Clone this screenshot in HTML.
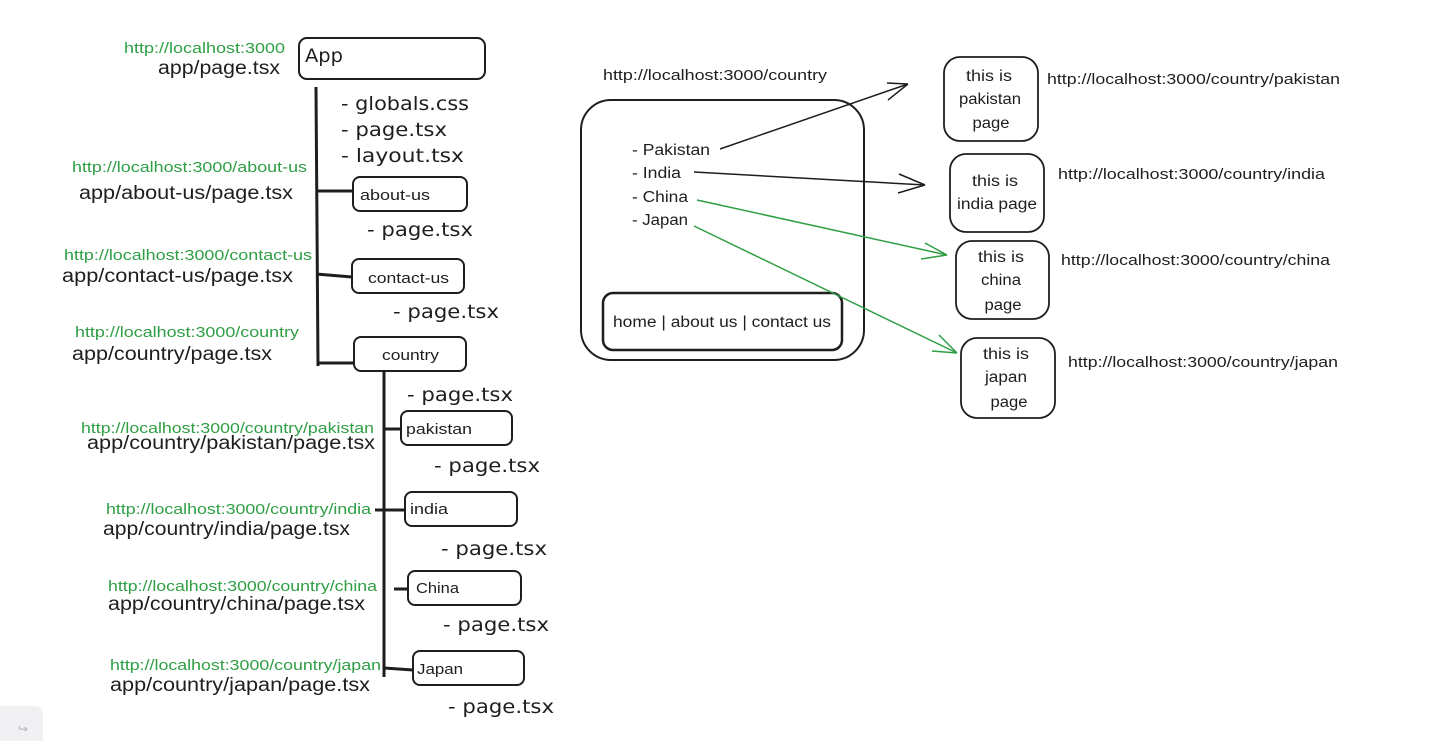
<!DOCTYPE html>
<html><head><meta charset="utf-8"><style>
html,body{margin:0;padding:0;background:#fff;width:1443px;height:741px;overflow:hidden}
svg{display:block}
.h{font-family:"DejaVu Sans","Liberation Sans",sans-serif;font-size:19px;fill:#1e1e1e}
.g{font-family:"Liberation Sans",sans-serif;font-size:15px;fill:#2f9e44}
.b{font-family:"Liberation Sans",sans-serif;font-size:19px;fill:#1e1e1e}
.s{font-family:"Liberation Sans",sans-serif;font-size:15.5px;fill:#1e1e1e}
.n{font-family:"Liberation Sans",sans-serif;font-size:15px;fill:#1e1e1e}
</style></head><body>
<svg width="1443" height="741" viewBox="0 0 1443 741" xmlns="http://www.w3.org/2000/svg">
<g fill="none" stroke="#1e1e1e" stroke-width="2">
<rect x="299" y="38" width="186" height="41" rx="8"/>
<rect x="353" y="177" width="114" height="34" rx="7"/>
<rect x="352" y="259" width="112" height="34" rx="7"/>
<rect x="354" y="337" width="112" height="34" rx="7"/>
<rect x="401" y="411" width="111" height="34" rx="7"/>
<rect x="405" y="492" width="112" height="34" rx="7"/>
<rect x="408" y="571" width="113" height="34" rx="7"/>
<rect x="413" y="651" width="111" height="34" rx="7"/>
</g>
<g stroke="#1e1e1e" stroke-width="3" fill="none">
<line x1="316" y1="87" x2="318" y2="366"/>
<line x1="316" y1="191" x2="353" y2="191"/>
<line x1="316" y1="274" x2="352" y2="277"/>
<line x1="318" y1="363" x2="354" y2="363"/>
<line x1="384" y1="371" x2="384" y2="677"/>
<line x1="384" y1="429" x2="401" y2="429"/>
<line x1="375" y1="510" x2="405" y2="510"/>
<line x1="394" y1="589" x2="408" y2="589"/>
<line x1="384" y1="668" x2="413" y2="670"/>
</g>
<g lengthAdjust="spacingAndGlyphs">
<text x="305" y="62" class="h" textLength="38" lengthAdjust="spacingAndGlyphs">App</text>
<text x="341" y="110" class="h" textLength="128" lengthAdjust="spacingAndGlyphs">- globals.css</text>
<text x="341" y="136" class="h" textLength="106" lengthAdjust="spacingAndGlyphs">- page.tsx</text>
<text x="341" y="162" class="h" textLength="123" lengthAdjust="spacingAndGlyphs">- layout.tsx</text>
<text x="367" y="236" class="h" textLength="106" lengthAdjust="spacingAndGlyphs">- page.tsx</text>
<text x="393" y="318" class="h" textLength="106" lengthAdjust="spacingAndGlyphs">- page.tsx</text>
<text x="407" y="401" class="h" textLength="106" lengthAdjust="spacingAndGlyphs">- page.tsx</text>
<text x="434" y="472" class="h" textLength="106" lengthAdjust="spacingAndGlyphs">- page.tsx</text>
<text x="441" y="555" class="h" textLength="106" lengthAdjust="spacingAndGlyphs">- page.tsx</text>
<text x="443" y="631" class="h" textLength="106" lengthAdjust="spacingAndGlyphs">- page.tsx</text>
<text x="448" y="713" class="h" textLength="106" lengthAdjust="spacingAndGlyphs">- page.tsx</text>
<text x="360" y="200" class="n" textLength="70" lengthAdjust="spacingAndGlyphs">about-us</text>
<text x="368" y="283" class="n" textLength="81" lengthAdjust="spacingAndGlyphs">contact-us</text>
<text x="382" y="360" class="n" textLength="57" lengthAdjust="spacingAndGlyphs">country</text>
<text x="406" y="434" class="n" textLength="66" lengthAdjust="spacingAndGlyphs">pakistan</text>
<text x="410" y="514" class="n" textLength="38" lengthAdjust="spacingAndGlyphs">india</text>
<text x="416" y="593" class="n" textLength="43" lengthAdjust="spacingAndGlyphs">China</text>
<text x="417" y="674" class="n" textLength="46" lengthAdjust="spacingAndGlyphs">Japan</text>

<text x="124" y="53" class="g" textLength="161" lengthAdjust="spacingAndGlyphs">http://localhost:3000</text>
<text x="158" y="74" class="b" textLength="122" lengthAdjust="spacingAndGlyphs">app/page.tsx</text>
<text x="72" y="172" class="g" textLength="235" lengthAdjust="spacingAndGlyphs">http://localhost:3000/about-us</text>
<text x="79" y="199" class="b" textLength="214" lengthAdjust="spacingAndGlyphs">app/about-us/page.tsx</text>
<text x="64" y="260" class="g" textLength="248" lengthAdjust="spacingAndGlyphs">http://localhost:3000/contact-us</text>
<text x="62" y="282" class="b" textLength="231" lengthAdjust="spacingAndGlyphs">app/contact-us/page.tsx</text>
<text x="75" y="337" class="g" textLength="224" lengthAdjust="spacingAndGlyphs">http://localhost:3000/country</text>
<text x="72" y="360" class="b" textLength="200" lengthAdjust="spacingAndGlyphs">app/country/page.tsx</text>
<text x="81" y="433" class="g" textLength="293" lengthAdjust="spacingAndGlyphs">http://localhost:3000/country/pakistan</text>
<text x="87" y="449" class="b" textLength="288" lengthAdjust="spacingAndGlyphs">app/country/pakistan/page.tsx</text>
<text x="106" y="514" class="g" textLength="265" lengthAdjust="spacingAndGlyphs">http://localhost:3000/country/india</text>
<text x="103" y="535" class="b" textLength="247" lengthAdjust="spacingAndGlyphs">app/country/india/page.tsx</text>
<text x="108" y="591" class="g" textLength="269" lengthAdjust="spacingAndGlyphs">http://localhost:3000/country/china</text>
<text x="108" y="610" class="b" textLength="257" lengthAdjust="spacingAndGlyphs">app/country/china/page.tsx</text>
<text x="110" y="670" class="g" textLength="271" lengthAdjust="spacingAndGlyphs">http://localhost:3000/country/japan</text>
<text x="110" y="691" class="b" textLength="260" lengthAdjust="spacingAndGlyphs">app/country/japan/page.tsx</text>

<text x="603" y="80" class="n" textLength="224" lengthAdjust="spacingAndGlyphs">http://localhost:3000/country</text>
</g>
<rect x="581" y="100" width="283" height="260" rx="30" fill="none" stroke="#1e1e1e" stroke-width="2"/>
<rect x="603" y="293" width="239" height="57" rx="10" fill="none" stroke="#1e1e1e" stroke-width="2.5"/>
<text x="613" y="327" class="s" textLength="218" lengthAdjust="spacingAndGlyphs">home | about us | contact us</text>
<text x="632" y="155" class="s" textLength="78" lengthAdjust="spacingAndGlyphs">- Pakistan</text>
<text x="632" y="178" class="s" textLength="49" lengthAdjust="spacingAndGlyphs">- India</text>
<text x="632" y="202" class="s" textLength="56" lengthAdjust="spacingAndGlyphs">- China</text>
<text x="632" y="225" class="s" textLength="56" lengthAdjust="spacingAndGlyphs">- Japan</text>
<g fill="none" stroke-width="1.5">
<path d="M720 149 L908 84 M887 83 L908 84 M888 100 L908 84" stroke="#1e1e1e"/>
<path d="M694 172 L925 185 M899 174 L925 185 M898 193 L925 185" stroke="#1e1e1e"/>
<path d="M697 200 L947 255 M925 243 L947 255 M921 259 L947 255" stroke="#2f9e44"/>
<path d="M694 226 L957 353 M939 335 L957 353 M932 351 L957 353" stroke="#2f9e44"/>
</g>
<g fill="none" stroke="#1e1e1e" stroke-width="1.8">
<rect x="944" y="57" width="94" height="84" rx="16"/>
<rect x="950" y="154" width="94" height="78" rx="16"/>
<rect x="956" y="241" width="93" height="78" rx="16"/>
<rect x="961" y="338" width="94" height="80" rx="16"/>
</g>
<g text-anchor="middle">
<text x="989" y="81" class="s" textLength="46" lengthAdjust="spacingAndGlyphs">this is</text>
<text x="990" y="104" class="s" textLength="62" lengthAdjust="spacingAndGlyphs">pakistan</text>
<text x="991" y="128" class="s" textLength="37" lengthAdjust="spacingAndGlyphs">page</text>
<text x="995" y="186" class="s" textLength="46" lengthAdjust="spacingAndGlyphs">this is</text>
<text x="997" y="209" class="s" textLength="80" lengthAdjust="spacingAndGlyphs">india page</text>
<text x="1001" y="262" class="s" textLength="46" lengthAdjust="spacingAndGlyphs">this is</text>
<text x="1001" y="285" class="s" textLength="40" lengthAdjust="spacingAndGlyphs">china</text>
<text x="1003" y="310" class="s" textLength="37" lengthAdjust="spacingAndGlyphs">page</text>
<text x="1006" y="359" class="s" textLength="46" lengthAdjust="spacingAndGlyphs">this is</text>
<text x="1006" y="382" class="s" textLength="42" lengthAdjust="spacingAndGlyphs">japan</text>
<text x="1009" y="407" class="s" textLength="37" lengthAdjust="spacingAndGlyphs">page</text>
</g>
<text x="1047" y="84" class="n" textLength="293" lengthAdjust="spacingAndGlyphs">http://localhost:3000/country/pakistan</text>
<text x="1058" y="179" class="n" textLength="267" lengthAdjust="spacingAndGlyphs">http://localhost:3000/country/india</text>
<text x="1061" y="265" class="n" textLength="269" lengthAdjust="spacingAndGlyphs">http://localhost:3000/country/china</text>
<text x="1068" y="367" class="n" textLength="270" lengthAdjust="spacingAndGlyphs">http://localhost:3000/country/japan</text>
<rect x="-10" y="706" width="53" height="45" rx="8" fill="#f1f1f4"/>
<text x="23" y="733" font-family="DejaVu Sans" font-size="12" fill="#b0b0b8" text-anchor="middle">↪</text>
</svg>
</body></html>
